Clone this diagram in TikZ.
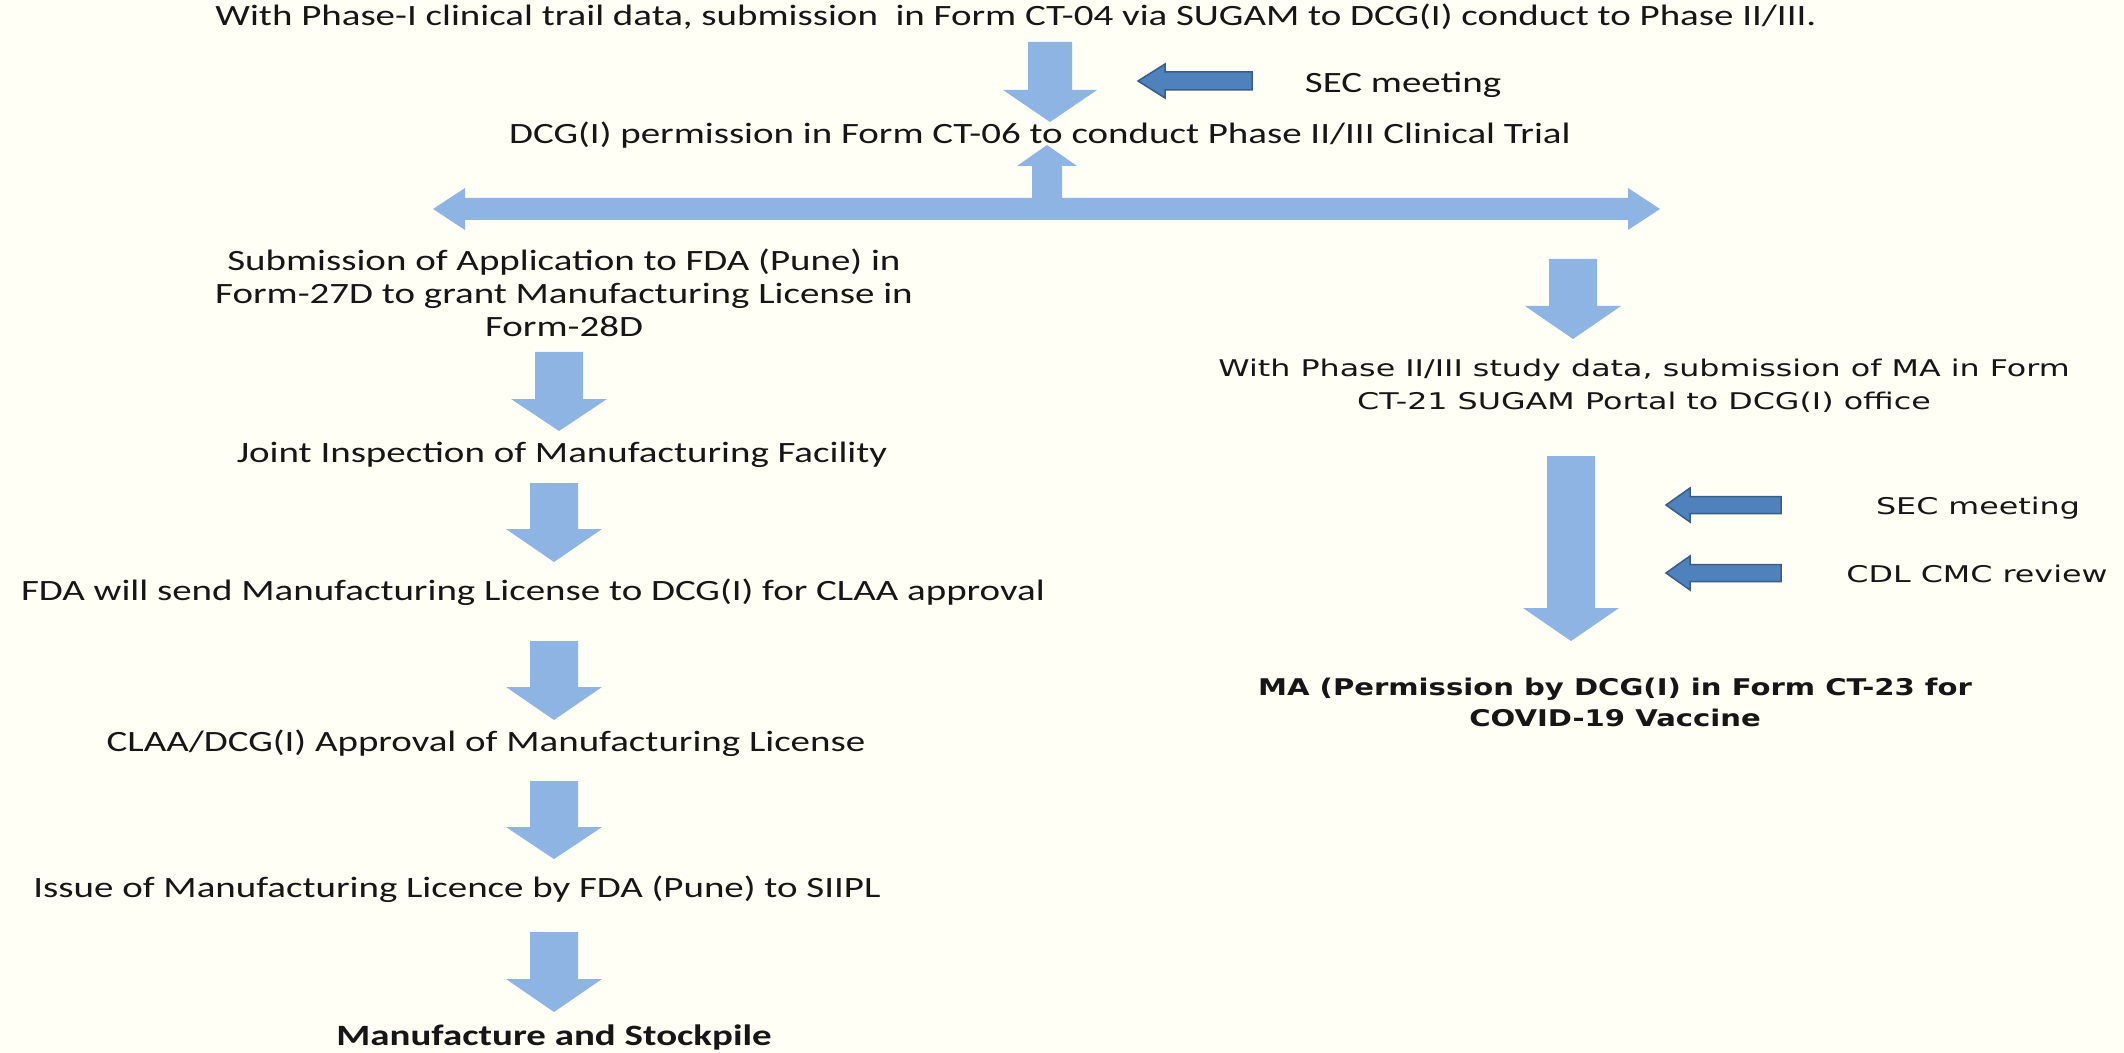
\documentclass[tikz,border=0pt]{standalone}
\usepackage{fontspec}
\newfontfamily\calfont[FakeStretch=1.32]{Carlito}
\newfontfamily\verfont[FakeStretch=1.38]{DejaVu Sans}
\newfontfamily\verboldfont[FakeStretch=1.265]{DejaVu Sans}
\definecolor{bgivory}{HTML}{FFFFF5}
\definecolor{lightblk}{HTML}{8EB4E3}
\definecolor{darkblk}{HTML}{4F81BD}
\definecolor{darkedge}{HTML}{385D8A}
\definecolor{txt}{HTML}{161616}
\tikzset{
  caltext/.style={inner sep=0pt, text=txt, align=center, font=\calfont\fontsize{14.75}{16.5}\selectfont},
  calbold/.style={caltext, font=\calfont\bfseries\fontsize{14.75}{16.5}\selectfont},
  vertext/.style={inner sep=0pt, text=txt, align=center, font=\verfont\fontsize{11.5}{16.5}\selectfont},
  verbold/.style={vertext, font=\verboldfont\bfseries\fontsize{11.5}{15.5}\selectfont},
  bigarrow/.style={fill=lightblk},
  smallarrow/.style={fill=darkblk, draw=darkedge, line width=0.75pt, line join=miter},
}
% cx, top, headbase, tip, shaft half width, head half width
\newcommand\blockdown[6]{%
  \path[bigarrow] ({#1-#5},#2) -- ({#1+#5},#2) -- ({#1+#5},#3) -- ({#1+#6},#3) -- (#1,#4) -- ({#1-#6},#3) -- ({#1-#5},#3) -- cycle;}
% tipx, headbackx, tailx, cy, shaft half height, head half height
\newcommand\blockleft[6]{%
  \path[smallarrow] (#1,#4) -- (#2,{#4-#6}) -- (#2,{#4-#5}) -- (#3,{#4-#5}) -- (#3,{#4+#5}) -- (#2,{#4+#5}) -- (#2,{#4+#6}) -- cycle;}
\begin{document}
\begin{tikzpicture}[x=0.5pt, y=-0.5pt]
\fill[bgivory] (0,0) rectangle (2124,1053);
\useasboundingbox (0,0) rectangle (2124,1053);

% top part
\node[caltext, anchor=base] (top) at (1016,26) {With Phase-I clinical trail data, submission\ \ in Form CT-04 via SUGAM to DCG(I) conduct to Phase II/III.};
\blockdown{1050}{42}{90}{122}{22}{47}
\blockleft{1138}{1165}{1252}{81}{9}{17}
\node[caltext, anchor=base] (sec1) at (1403,93) {SEC meeting};
\node[caltext, anchor=base] (perm) at (1040,144) {DCG(I) permission in Form CT-06 to conduct Phase II/III Clinical Trial};

% double arrow with up arrow
\path[bigarrow] (433,209) -- (465,188) -- (465,198) -- (1032,198) -- (1032,166) -- (1017,166) -- (1047,145)
  -- (1077,166) -- (1062,166) -- (1062,198) -- (1628,198) -- (1628,188) -- (1660,209) -- (1628,230)
  -- (1628,220) -- (465,220) -- (465,230) -- cycle;

% left column
\node[caltext] (sub) at (564,293) {Submission of Application to FDA (Pune) in\\Form-27D to grant Manufacturing License in\\Form-28D};
\blockdown{559}{352}{399}{431}{24}{48}
\node[caltext, anchor=base] (joint) at (562,462) {Joint Inspection of Manufacturing Facility};
\blockdown{554}{483}{529}{562}{24}{48}
\node[caltext, anchor=base] (fda) at (533,600) {FDA will send Manufacturing License to DCG(I) for CLAA approval};
\blockdown{554}{641}{687}{720}{24}{48}
\node[caltext, anchor=base] (claa) at (486,751) {CLAA/DCG(I) Approval of Manufacturing License};
\blockdown{554}{781}{827}{859}{24}{48}
\node[caltext, anchor=base] (issue) at (457,897) {Issue of Manufacturing Licence by FDA (Pune) to SIIPL};
\blockdown{554}{932}{979}{1012}{24}{48}
\node[calbold, anchor=base] (stock) at (554,1045) {Manufacture and Stockpile};

% right column
\blockdown{1573}{259}{306}{339}{24}{48}
\node[vertext] (ma) at (1644,386) {With Phase II/III study data, submission of MA in Form\\CT-21 SUGAM\hspace{0.45em}Portal to DCG(I) office};
\blockdown{1571}{456}{608}{641}{24}{48}
\blockleft{1666}{1690}{1781}{505}{8.5}{17}
\node[vertext, anchor=base] (sec2) at (1978,514) {SEC meeting};
\blockleft{1666}{1690}{1781}{573}{8.5}{17}
\node[vertext, anchor=base] (cdl) at (1977,582) {CDL CMC review};
\node[verbold] (final) at (1615,702) {MA (Permission by DCG(I) in Form CT-23 for\\COVID-19 Vaccine};
\end{tikzpicture}
\end{document}
